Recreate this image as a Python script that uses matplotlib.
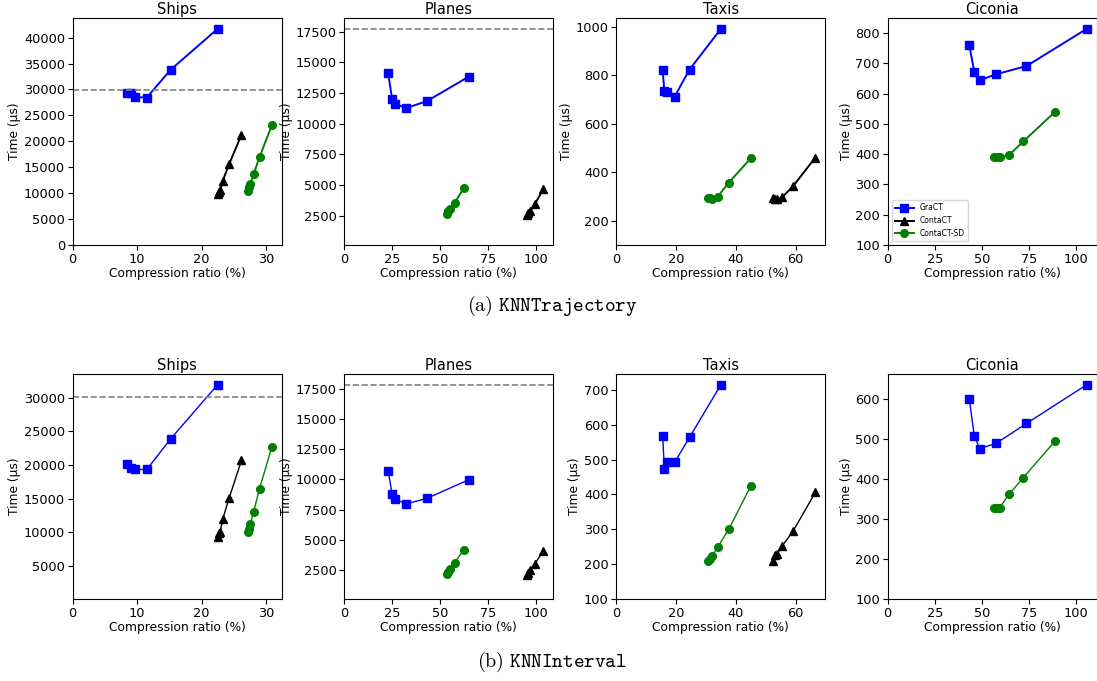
import matplotlib
matplotlib.use("Agg")
import matplotlib.pyplot as plt
from matplotlib.ticker import MultipleLocator

plt.rcParams['mathtext.fontset'] = 'cm'
plt.rcParams['font.family'] = 'DejaVu Sans'

datasets = ["Ships", "Planes", "Taxis", "Ciconia"]
methods = ["GraCT", "ContaCT", "ContaCT-SD"]

# compression ratios (%)
ships_ratio_gract = [8.4, 9.1, 9.7, 11.5, 15.2, 22.5]
ships_ratio_contact = [22.5, 22.7, 22.9, 23.3, 24.3, 26.2]
ships_ratio_sd = [27.2, 27.4, 27.6, 28.1, 29.0, 30.9]

planes_ratio_gract = [22.9, 25.0, 26.7, 32.2, 43.1, 65.0]
planes_ratio_contact = [95.3, 96.1, 97.0, 99.7, 104.1]
planes_ratio_sd = [53.5, 54.4, 55.5, 57.7, 62.4]

taxis_ratio_gract = [15.5, 16.1, 17.1, 19.5, 24.5, 35.0]
taxis_ratio_contact = [52.4, 53.1, 53.9, 55.4, 59.1, 66.6]
taxis_ratio_sd = [30.8, 31.2, 31.9, 33.9, 37.6, 45.0]

ciconia_ratio_gract = [43.3, 46.0, 48.9, 57.6, 73.7, 105.7]
ciconia_ratio_contact = []
ciconia_ratio_sd = [56.4, 57.9, 59.5, 64.3, 72.0, 88.9]

# (a) KNNTrajectory times (us)
ships_traj_gract = [29400, 29400, 28500, 28450, 33800, 41700]
ships_traj_contact = [9850, 10300, 10600, 12400, 15650, 21250]
ships_traj_sd = [10500, 11100, 11800, 13700, 16950, 23050]
planes_traj_gract = [14100, 12040, 11630, 11250, 11820, 13810]
planes_traj_contact = [2540, 2680, 2870, 3440, 4670]
planes_traj_sd = [2650, 2840, 3010, 3520, 4720]
taxis_traj_gract = [820, 734, 731, 712, 824, 992]
taxis_traj_contact = [292, 290, 288, 296, 342, 461]
taxis_traj_sd = [292, 294, 291, 299, 357, 458]
ciconia_traj_gract = [761, 671, 644, 664, 691, 814]
ciconia_traj_contact = []
ciconia_traj_sd = [389, 392, 389, 396, 442, 540]

# (b) KNNInterval times (us)
ships_int_gract = [20200, 19600, 19350, 19350, 23900, 31950]
ships_int_contact = [9350, 9850, 10100, 12000, 15150, 20700]
ships_int_sd = [10000, 10500, 11300, 13100, 16500, 22650]
planes_int_gract = [10730, 8800, 8370, 7960, 8420, 9960]
planes_int_contact = [2090, 2250, 2470, 3020, 4090]
planes_int_sd = [2140, 2320, 2550, 3100, 4150]
taxis_int_gract = [569, 473, 492, 492, 564, 715]
taxis_int_contact = [210, 225, 230, 251, 294, 406]
taxis_int_sd = [208, 214, 222, 248, 300, 424]
ciconia_int_gract = [602, 508, 477, 490, 540, 637]
ciconia_int_contact = []
ciconia_int_sd = [328, 328, 329, 362, 404, 496]

# dashed reference lines (only Ships and Planes)
traj_baseline = {"Ships": 29850, "Planes": 17720}
int_baseline = {"Ships": 30150, "Planes": 17830}

# lower y limit and y tick step of each panel
traj_yfloor = {"Ships": 0, "Planes": 100, "Taxis": 100, "Ciconia": 100}
int_yfloor = {"Ships": 100, "Planes": 100, "Taxis": 100, "Ciconia": 100}
traj_ystep = {"Ships": 5000, "Planes": 2500, "Taxis": 200, "Ciconia": 100}
int_ystep = {"Ships": 5000, "Planes": 2500, "Taxis": 100, "Ciconia": 100}

ratios = {
    "Ships": [ships_ratio_gract, ships_ratio_contact, ships_ratio_sd],
    "Planes": [planes_ratio_gract, planes_ratio_contact, planes_ratio_sd],
    "Taxis": [taxis_ratio_gract, taxis_ratio_contact, taxis_ratio_sd],
    "Ciconia": [ciconia_ratio_gract, ciconia_ratio_contact, ciconia_ratio_sd],
}
traj_times = {
    "Ships": [ships_traj_gract, ships_traj_contact, ships_traj_sd],
    "Planes": [planes_traj_gract, planes_traj_contact, planes_traj_sd],
    "Taxis": [taxis_traj_gract, taxis_traj_contact, taxis_traj_sd],
    "Ciconia": [ciconia_traj_gract, ciconia_traj_contact, ciconia_traj_sd],
}
int_times = {
    "Ships": [ships_int_gract, ships_int_contact, ships_int_sd],
    "Planes": [planes_int_gract, planes_int_contact, planes_int_sd],
    "Taxis": [taxis_int_gract, taxis_int_contact, taxis_int_sd],
    "Ciconia": [ciconia_int_gract, ciconia_int_contact, ciconia_int_sd],
}

colors = ["blue", "black", "green"]
markers = ["s", "^", "o"]

W, H = 1097, 681
fig = plt.figure(figsize=(W / 100, H / 100), dpi=100)

col_left = [72.7, 344.3, 616.3, 887.7]
ax_w = 209


def draw_row(times, baselines, yfloor, ystep, top_px, bot_px, lw, legend_on):
    for i, name in enumerate(datasets):
        ax = fig.add_axes([col_left[i] / W, 1 - bot_px / H, ax_w / W, (bot_px - top_px) / H])
        ymax = 0
        xmax = 0
        for k, m in enumerate(methods):
            xs = ratios[name][k]
            ys = times[name][k]
            ax.plot(xs, ys, color=colors[k], marker=markers[k], markersize=5.5,
                    linewidth=lw, label=m)
            if ys:
                ymax = max(ymax, max(ys))
                xmax = max(xmax, max(xs))
        if name in baselines:
            ax.axhline(baselines[name], color="gray", linestyle="--", linewidth=1.2)
            ymax = max(ymax, baselines[name])
        lo = yfloor[name]
        ax.set_ylim(lo, ymax + 0.05 * (ymax - lo))
        ax.set_xlim(0, xmax * 1.05)
        ax.yaxis.set_major_locator(MultipleLocator(ystep[name]))
        ax.set_title(name, fontsize=10.5, pad=3)
        ax.set_xlabel("Compression ratio (%)", fontsize=8.8, labelpad=1)
        ax.set_ylabel("Time (µs)", fontsize=8.8, labelpad=2)
        ax.tick_params(labelsize=9.3, pad=2)
        if legend_on and name == "Ciconia":
            ax.legend(loc="lower left", fontsize=5.5, handlelength=2.5)


draw_row(traj_times, traj_baseline, traj_yfloor, traj_ystep, 18, 245, 1.4, True)
draw_row(int_times, int_baseline, int_yfloor, int_ystep, 374, 599, 1.0, False)

fig.text(0.503, 1 - 306 / H, r"$\mathrm{(a)}\ \mathtt{KNNTrajectory}$",
         ha="center", va="center", fontsize=14.5)
fig.text(0.503, 1 - 662 / H, r"$\mathrm{(b)}\ \mathtt{KNNInterval}$",
         ha="center", va="center", fontsize=14.5)

fig.savefig("out.png", dpi=100)
